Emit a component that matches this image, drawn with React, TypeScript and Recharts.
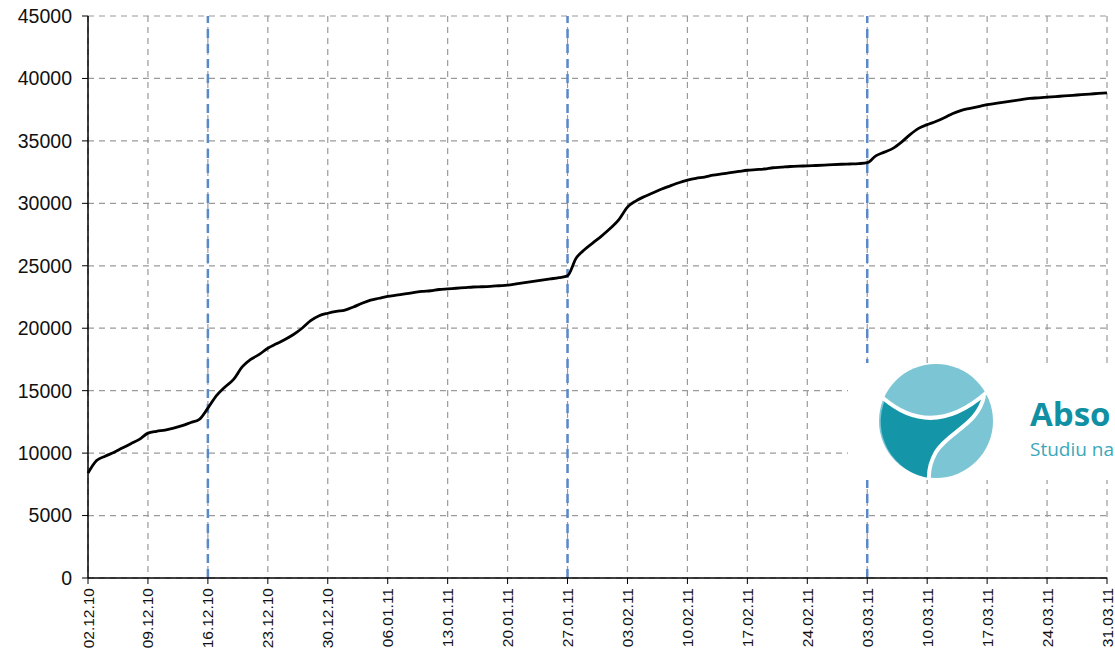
import {
  CartesianGrid,
  Line,
  LineChart,
  ReferenceLine,
  XAxis,
  YAxis,
} from "recharts";

// cumulative count, one value per day from 02.12.10 to 31.03.11
const dailyValues = [
  8400, 9400, 9750, 10050, 10400, 10750, 11100,
  11600, 11750, 11850, 12000, 12200, 12450, 12700,
  13600, 14600, 15300, 15900, 16900, 17500, 17900,
  18400, 18750, 19100, 19500, 20000, 20600, 21000,
  21200, 21350, 21450, 21700, 22000, 22250, 22400,
  22550, 22650, 22750, 22850, 22950, 23000, 23100,
  23150, 23200, 23250, 23300, 23320, 23350, 23400,
  23450, 23550, 23650, 23750, 23850, 23950, 24050,
  24200, 25600, 26300, 26850, 27400, 28000, 28700,
  29700, 30200, 30550, 30850, 31150, 31400, 31650,
  31850, 32000, 32100, 32250, 32350, 32450, 32550,
  32650, 32700, 32750, 32850, 32900, 32950, 32980,
  33000, 33030, 33060, 33100, 33130, 33150, 33180,
  33250, 33800, 34100, 34400, 34900, 35500, 36000,
  36300, 36550, 36850, 37200, 37450, 37600, 37750,
  37900, 38000, 38100, 38200, 38300, 38400, 38450,
  38500, 38550, 38600, 38650, 38700, 38750, 38800,
  38850,
];

const weekTickDays = [0, 7, 14, 21, 28, 35, 42, 49, 56, 63, 70, 77, 84, 91, 98, 105, 112, 119];
const weekTickLabels = [
  "02.12.10", "09.12.10", "16.12.10", "23.12.10", "30.12.10", "06.01.11",
  "13.01.11", "20.01.11", "27.01.11", "03.02.11", "10.02.11", "17.02.11",
  "24.02.11", "03.03.11", "10.03.11", "17.03.11", "24.03.11", "31.03.11",
];
const yTicks = [0, 5000, 10000, 15000, 20000, 25000, 30000, 35000, 40000, 45000];
const markerDays = [14, 56, 91];

const data = dailyValues.map((value, day) => ({ day, value }));

const DateTick = ({ x, y, payload }: any) => {
  const idx = weekTickDays.indexOf(payload.value);
  return (
    <text
      x={x}
      y={y}
      transform={`rotate(-90, ${x}, ${y})`}
      textAnchor="end"
      dominantBaseline="central"
      fontSize={15.5}
      fill="#111"
      fontFamily="'Liberation Sans', Arial, sans-serif"
    >
      {weekTickLabels[idx]}
    </text>
  );
};

const Logo = () => (
  <div
    style={{
      position: "absolute",
      left: 848,
      top: 363,
      width: 267,
      height: 117,
      background: "#fff",
      overflow: "hidden",
    }}
  >
    <svg width={267} height={117}>
      <g transform="translate(-848,-363)">
        <circle cx={936} cy={421} r={57} fill="#7cc5d5" />
        <path
          d="M 885 400 Q 932 438 984 396 C 978 425 948 432 936 452 Q 928 466 929 478 A 57 57 0 0 1 885 400 Z"
          fill="#1596a8"
        />
        <path d="M 883 398 Q 932 440 986 393" stroke="#fff" strokeWidth={4} fill="none" />
        <path d="M 984 396 C 978 425 948 432 936 452 Q 928 466 929 480" stroke="#fff" strokeWidth={4} fill="none" />
      </g>
      <text x={182} y={63} fontSize={33} fontWeight={700} fill="#1190a3" fontFamily="'Open Sans', sans-serif">
        Abso
      </text>
      <text x={182} y={93} fontSize={19} fill="#3aa8ba" fontFamily="'Open Sans', sans-serif">
        Studiu na
      </text>
    </svg>
  </div>
);

export default function App() {
  return (
    <div
      style={{
        position: "absolute",
        left: 0,
        top: 0,
        width: 1115,
        height: 654,
        background: "#fff",
        overflow: "hidden",
      }}
    >
      <LineChart
        width={1115}
        height={654}
        data={data}
        margin={{ top: 16, right: 8, left: 0, bottom: 0 }}
      >
        <CartesianGrid stroke="#9a9a9a" strokeDasharray="6 5" strokeWidth={1.2} />
        <XAxis
          dataKey="day"
          type="number"
          domain={[0, 119]}
          ticks={weekTickDays}
          interval={0}
          height={76}
          tick={<DateTick />}
          tickSize={6}
          tickMargin={4}
          axisLine={{ stroke: "#000", strokeWidth: 1.5 }}
          tickLine={{ stroke: "#000" }}
        />
        <YAxis
          domain={[0, 45000]}
          ticks={yTicks}
          interval={0}
          width={88}
          tickSize={6}
          tickMargin={10}
          tick={{ fill: "#111", fontSize: 19.5, fontFamily: "'Liberation Sans', Arial, sans-serif" }}
          axisLine={{ stroke: "#000", strokeWidth: 1.5 }}
          tickLine={{ stroke: "#000" }}
        />
        {markerDays.map((d) => (
          <ReferenceLine
            key={d}
            x={d}
            stroke="#5a88c8"
            strokeWidth={2.5}
            strokeDasharray="9 6"
          />
        ))}
        <Line
          type="monotone"
          dataKey="value"
          stroke="#000"
          strokeWidth={2.8}
          dot={false}
          isAnimationActive={false}
        />
      </LineChart>
      <Logo />
    </div>
  );
}
